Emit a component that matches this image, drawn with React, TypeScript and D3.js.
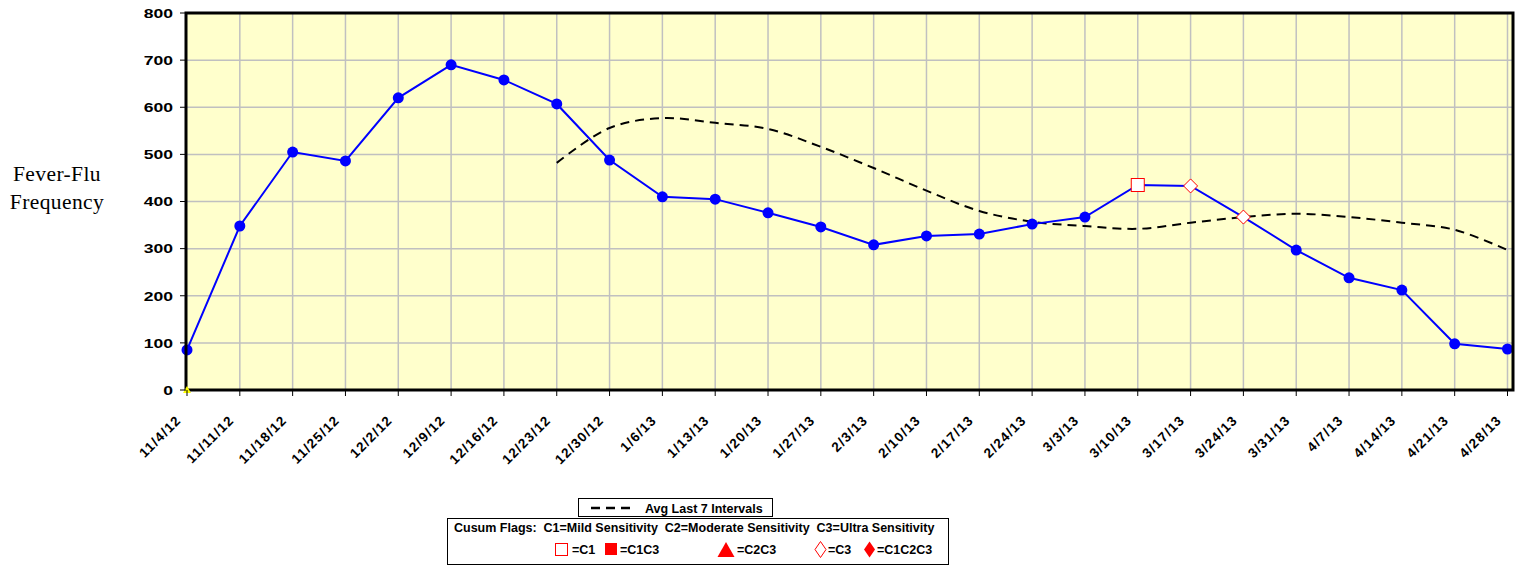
import React from "react";
import * as d3 from "d3";

const weeks: string[] = [
  "11/4/12", "11/11/12", "11/18/12", "11/25/12", "12/2/12", "12/9/12", "12/16/12",
  "12/23/12", "12/30/12", "1/6/13", "1/13/13", "1/20/13", "1/27/13", "2/3/13",
  "2/10/13", "2/17/13", "2/24/13", "3/3/13", "3/10/13", "3/17/13", "3/24/13",
  "3/31/13", "4/7/13", "4/14/13", "4/21/13", "4/28/13",
];

const counts: number[] = [
  85, 348, 505, 486, 620, 690, 658, 607, 488, 410, 405, 376, 346, 308,
  327, 331, 352, 367, 435, 433, 367, 297, 238, 212, 98, 87,
];

// 7-interval average, starts at 12/23/12
const avgWeeks: string[] = weeks.slice(7);
const avgValues: number[] = [
  482, 556, 577, 567, 554, 516, 471, 423, 380, 357, 348, 342, 355, 367, 374, 367, 355, 340, 297,
];

// cusum flags
const flagC1: string[] = ["3/10/13"];
const flagC3: string[] = ["3/17/13", "3/24/13"];
const zeroFlag: string[] = ["11/4/12"];

const yTicks: number[] = [0, 100, 200, 300, 400, 500, 600, 700, 800];

const left = 186;
const right = 1513;
const top = 13;
const bottom = 390;

const App = () => {
  const x = d3.scalePoint<string>().domain(weeks).range([187, 1507.5]);
  const y = d3.scaleLinear().domain([0, 800]).range([bottom, top]);

  const valueOf = (w: string) => counts[weeks.indexOf(w)];

  const line = d3
    .line<number>()
    .x((_, i) => x(weeks[i]) as number)
    .y((d) => y(d));

  const avgLine = d3
    .line<number>()
    .x((_, i) => x(avgWeeks[i]) as number)
    .y((d) => y(d))
    .curve(d3.curveCatmullRom);

  const diamond = (cx: number, cy: number, w: number, h: number) =>
    `M${cx},${cy - h} L${cx + w},${cy} L${cx},${cy + h} L${cx - w},${cy} Z`;

  const bold = "Arial, 'Liberation Sans', sans-serif";

  return (
    <svg width={1525} height={567} style={{ position: "absolute", left: 0, top: 0 }}>
      <rect x={0} y={0} width={1525} height={567} fill="#fff" />
      <rect x={left} y={top} width={right - left} height={bottom - top} fill="#FFFFCC" />

      {/* grid */}
      <g stroke="#C0C0C0" strokeWidth={1.5}>
        {yTicks.slice(1, -1).map((t) => (
          <line key={t} x1={left} x2={right} y1={y(t)} y2={y(t)} />
        ))}
        {weeks.slice(1).map((w) => (
          <line key={w} x1={x(w)} x2={x(w)} y1={top} y2={bottom} />
        ))}
      </g>

      {/* avg line */}
      <path
        d={avgLine(avgValues) as string}
        fill="none"
        stroke="#000"
        strokeWidth={2}
        strokeDasharray="9,6"
      />

      {/* counts */}
      <path d={line(counts) as string} fill="none" stroke="#0000FF" strokeWidth={2} />
      {weeks.map((w, i) =>
        flagC1.includes(w) || flagC3.includes(w) ? null : (
          <circle key={w} cx={x(w)} cy={y(counts[i])} r={5.5} fill="#0000FF" />
        )
      )}
      {flagC1.map((w) => (
        <rect
          key={w}
          x={(x(w) as number) - 6.5}
          y={y(valueOf(w)) - 6.5}
          width={13}
          height={13}
          fill="#fff"
          stroke="#FF0000"
          strokeWidth={1}
        />
      ))}
      {flagC3.map((w) => (
        <path
          key={w}
          d={diamond(x(w) as number, y(valueOf(w)), 7, 7)}
          fill="#fff"
          stroke="#FF0000"
          strokeWidth={1}
        />
      ))}

      {/* frame */}
      <rect
        x={left}
        y={top}
        width={right - left}
        height={bottom - top}
        fill="none"
        stroke="#000"
        strokeWidth={3}
      />
      {zeroFlag.map((w) => (
        <path
          key={w}
          d={`M${x(w)},${y(0) - 4} L${(x(w) as number) + 4},${y(0) + 3} L${(x(w) as number) - 4},${y(0) + 3} Z`}
          fill="#FFFF00"
        />
      ))}

      {/* y axis */}
      <g fontFamily={bold} fontWeight="bold" fontSize={13.5}>
        {yTicks.map((t) => (
          <g key={t}>
            <line x1={180} x2={left} y1={y(t)} y2={y(t)} stroke="#000" strokeWidth={1} />
            <text
              transform={`translate(173,${y(t)}) scale(1.3,1)`}
              dy="0.36em"
              textAnchor="end"
            >
              {t}
            </text>
          </g>
        ))}
      </g>

      {/* x axis */}
      <g fontFamily={bold} fontWeight="bold" fontSize={13.5} letterSpacing={1.2}>
        {weeks.map((w) => (
          <g key={w}>
            <line x1={x(w)} x2={x(w)} y1={bottom} y2={bottom + 6} stroke="#000" strokeWidth={1} />
            <text
              transform={`translate(${(x(w) as number) - 5},${bottom + 31}) rotate(-45)`}
              textAnchor="end"
            >
              {w}
            </text>
          </g>
        ))}
      </g>

      {/* y title */}
      <g
        fontFamily="'Times New Roman', 'Liberation Serif', serif"
        fontSize={21.5}
        letterSpacing={0.4}
        textAnchor="middle"
      >
        <text x={57} y={181}>Fever-Flu</text>
        <text x={57} y={209}>Frequency</text>
      </g>

      {/* legends */}
      <g fontFamily={bold} fontWeight="bold" fontSize={12.5}>
        <rect x={578.5} y={498.5} width={194} height={18} fill="#fff" stroke="#000" strokeWidth={1} />
        <line x1={591} x2={636} y1={508} y2={508} stroke="#000" strokeWidth={2.5} strokeDasharray="9,6" />
        <text x={645} y={512.5}>Avg Last 7 Intervals</text>

        <rect x={447.5} y={518.5} width={501} height={46} fill="#fff" stroke="#000" strokeWidth={1} />
        <text x={454} y={532} style={{ whiteSpace: "pre" }}>
          {"Cusum Flags:  C1=Mild Sensitivity  C2=Moderate Sensitivity  C3=Ultra Sensitivity"}
        </text>
        <rect x={555.5} y={543.5} width={12} height={12} fill="#fff" stroke="#FF0000" strokeWidth={1} />
        <text x={572} y={554}>=C1</text>
        <rect x={605} y={543} width={12} height={12} fill="#FF0000" />
        <text x={620} y={554}>=C1C3</text>
        <path d="M726,542 L734.5,557 L717.5,557 Z" fill="#FF0000" />
        <text x={737} y={554}>=C2C3</text>
        <path d={diamond(820.5, 549.5, 5.5, 8)} fill="#fff" stroke="#FF0000" strokeWidth={1} />
        <text x={828} y={554}>=C3</text>
        <path d={diamond(869.5, 549.5, 5.5, 8)} fill="#FF0000" />
        <text x={877} y={554}>=C1C2C3</text>
      </g>
    </svg>
  );
};

export default App;
